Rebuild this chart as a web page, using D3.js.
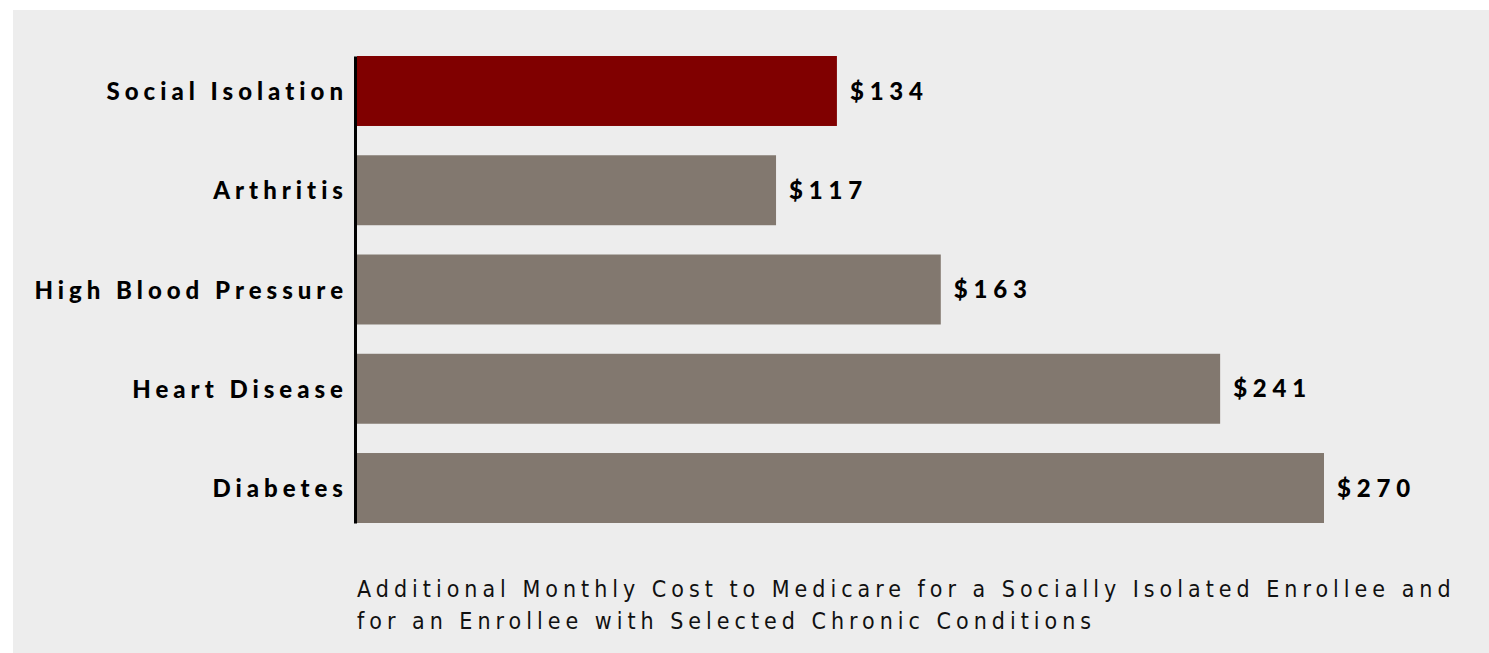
<!DOCTYPE html>
<html>
<head>
<meta charset="utf-8">
<script src="https://cdn.jsdelivr.net/npm/d3@7"></script>
<style>
  body { margin: 0; background: #fff; }
  svg { display: block; }
</style>
</head>
<body>
<svg id="chart"></svg>
<script>
// Data
const conditions = ["Social Isolation", "Arthritis", "High Blood Pressure", "Heart Disease", "Diabetes"];
const costs = [134, 117, 163, 241, 270];
const barColors = ["#800000", "#82786f", "#82786f", "#82786f", "#82786f"];
const captionLines = [
  "Additional Monthly Cost to Medicare for a Socially Isolated Enrollee and",
  "for an Enrollee with Selected Chronic Conditions"
];

const W = 1489, H = 653;
let svg = d3.select("#chart").attr("width", W).attr("height", H);

// grey panel
svg.append("rect").attr("x", 13).attr("y", 10).attr("width", W - 13).attr("height", H - 10).attr("fill", "#ededed");

let x = d3.scaleLinear().domain([0, 270]).range([357, 1324]);
let y = d3.scaleBand().domain(conditions).range([56, 523]).paddingInner(0.295).paddingOuter(0);

// bars
svg.selectAll("rect.bar")
    .data(conditions)
    .enter().append("rect")
    .attr("class", "bar")
    .attr("x", x(0))
    .attr("y", d => y(d))
    .attr("width", (d, i) => x(costs[i]) - x(0))
    .attr("height", y.bandwidth())
    .attr("fill", (d, i) => barColors[i]);

// axis with category labels
let axis = svg.append("g").attr("transform", "translate(355,0)")
    .call(d3.axisLeft(y).tickSize(0).tickPadding(7));
axis.select(".domain").attr("stroke", "#000").attr("stroke-width", 3);
axis.selectAll(".tick text")
    .attr("dy", null)
    .attr("y", 9)
    .attr("fill", "#000")
    .style("font-family", "Lato, 'DejaVu Sans', sans-serif")
    .style("font-weight", 900)
    .style("font-size", "24px")
    .style("letter-spacing", "5px");

// value labels
svg.selectAll("text.val")
    .data(conditions)
    .enter().append("text")
    .attr("class", "val")
    .attr("x", (d, i) => x(costs[i]) + 13)
    .attr("y", d => y(d) + y.bandwidth() / 2 + 8.7)
    .attr("fill", "#000")
    .style("font-family", "Lato, 'DejaVu Sans', sans-serif")
    .style("font-weight", 900)
    .style("font-size", "24px")
    .style("letter-spacing", "5.8px")
    .text((d, i) => "$" + costs[i]);

// caption
svg.selectAll("text.cap")
    .data(captionLines)
    .enter().append("text")
    .attr("class", "cap")
    .attr("x", 357)
    .attr("y", (d, i) => 597 + i * 32)
    .attr("fill", "#111")
    .style("font-family", "'Liberation Sans Narrow', 'DejaVu Sans Condensed', sans-serif")
    .style("font-size", "23px")
    .style("letter-spacing", "5px")
    .text(d => d);
</script>
</body>
</html>
